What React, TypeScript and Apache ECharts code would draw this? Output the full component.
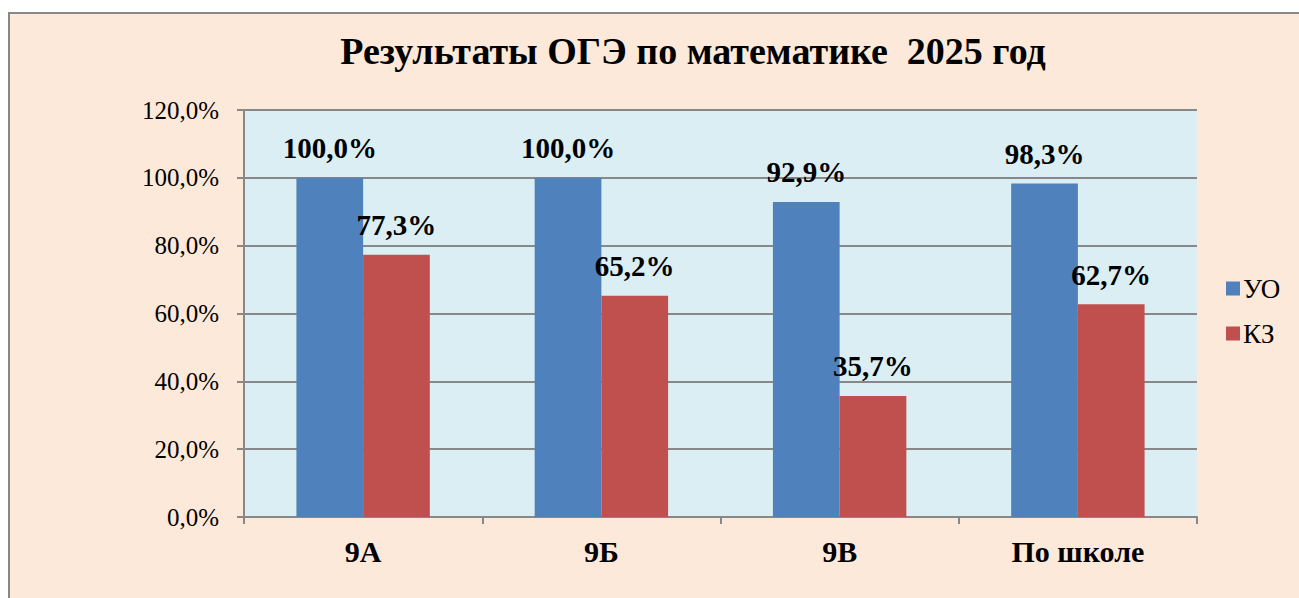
import React, { useEffect, useRef } from "react";
import * as echarts from "echarts";

const categories = ["9А", "9Б", "9В", "По школе"];
const seriesNames = ["УО", "КЗ"];
const uoValues = [100.0, 100.0, 92.9, 98.3];
const kzValues = [77.3, 65.2, 35.7, 62.7];
const titleText = "Результаты ОГЭ по математике  2025 год";

const fmt = (v: number) => v.toFixed(1).replace(".", ",") + "%";

export default function App() {
  const ref = useRef<HTMLDivElement>(null);
  useEffect(() => {
    document.body.style.margin = "0";
    const chart = echarts.init(ref.current!, null, { renderer: "svg" });
    const font = "'Liberation Serif', 'Times New Roman', serif";
    const labelStyle = {
      show: true,
      position: "top" as const,
      distance: 15,
      fontFamily: font,
      fontWeight: "bold" as const,
      fontSize: 29,
      color: "#000",
      formatter: (p: any) => fmt(p.value),
    };
    chart.setOption({
      animation: false,
      backgroundColor: "#ffffff",
      textStyle: { fontFamily: font },
      graphic: [
        {
          type: "rect",
          z: -10,
          shape: { x: 9, y: 13, width: 1400, height: 700 },
          style: { fill: "#FDE9D9", stroke: "#888888", lineWidth: 2 },
        },
      ],
      title: {
        text: titleText,
        left: 688,
        textAlign: "center",
        top: 27,
        textStyle: { fontFamily: font, fontWeight: "bold", fontSize: 38, color: "#000" },
      },
      legend: {
        orient: "vertical",
        left: 1221,
        top: 270,
        itemWidth: 14,
        itemHeight: 14,
        itemGap: 18,
        icon: "rect",
        textStyle: { fontFamily: font, fontSize: 27, color: "#000", padding: [0, 0, 0, -2] },
        data: seriesNames,
      },
      grid: {
        left: 244,
        right: 102,
        top: 110,
        bottom: 81,
        show: true,
        backgroundColor: "#DBEEF4",
        borderWidth: 0,
      },
      xAxis: {
        type: "category",
        data: categories,
        axisLine: { show: true, lineStyle: { color: "#888888", width: 2 } },
        axisTick: { show: true, length: 7, lineStyle: { color: "#888888", width: 2 } },
        axisLabel: {
          margin: 19,
          fontFamily: font,
          fontWeight: "bold",
          fontSize: 30,
          color: "#000",
        },
      },
      yAxis: {
        type: "value",
        min: 0,
        max: 120,
        interval: 20,
        axisLine: { show: true, lineStyle: { color: "#888888", width: 2 } },
        axisTick: { show: true, length: 7, lineStyle: { color: "#888888", width: 2 } },
        splitLine: { show: true, lineStyle: { color: "#888888", width: 2 } },
        axisLabel: {
          margin: 25,
          fontFamily: font,
          fontSize: 25,
          color: "#000",
          formatter: (v: number) => fmt(v),
        },
      },
      series: [
        {
          name: seriesNames[0],
          type: "bar",
          data: uoValues,
          barGap: "0%",
          barCategoryGap: "44%",
          itemStyle: { color: "#4F81BD" },
          label: labelStyle,
        },
        {
          name: seriesNames[1],
          type: "bar",
          data: kzValues,
          itemStyle: { color: "#C0504D" },
          label: labelStyle,
        },
      ],
    });
    return () => chart.dispose();
  }, []);
  return <div ref={ref} style={{ width: 1299, height: 598 }} />;
}
